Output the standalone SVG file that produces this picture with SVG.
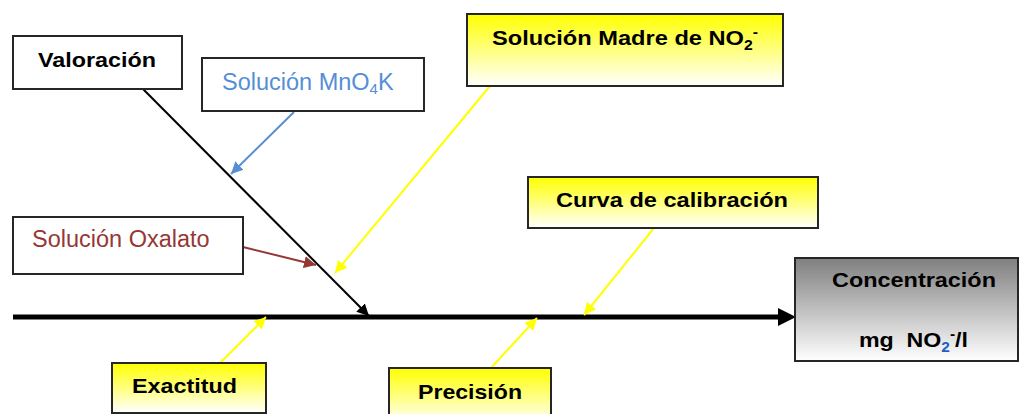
<svg xmlns="http://www.w3.org/2000/svg" width="1020" height="414" viewBox="0 0 1020 414">
<defs>
<linearGradient id="gy" x1="0" y1="0" x2="0" y2="1"><stop offset="0" stop-color="#ffff00"/><stop offset="1" stop-color="#ffffff"/></linearGradient>
<linearGradient id="gg" x1="0" y1="0" x2="0" y2="1"><stop offset="0" stop-color="#7f7f7f"/><stop offset="1" stop-color="#ffffff"/></linearGradient>
<marker id="aK" markerUnits="userSpaceOnUse" markerWidth="14" markerHeight="12" refX="12" refY="6" orient="auto"><path d="M0,0 L12,6 L0,12 Z" fill="#000"/></marker>
<marker id="aB" markerUnits="userSpaceOnUse" markerWidth="14" markerHeight="12" refX="12" refY="6" orient="auto"><path d="M0,0 L12,6 L0,12 Z" fill="#558ed5"/></marker>
<marker id="aR" markerUnits="userSpaceOnUse" markerWidth="14" markerHeight="12" refX="12" refY="6" orient="auto"><path d="M0,0 L12,6 L0,12 Z" fill="#953735"/></marker>
<marker id="aY" markerUnits="userSpaceOnUse" markerWidth="14" markerHeight="12" refX="12" refY="6" orient="auto"><path d="M0,0 L12,6 L0,12 Z" fill="#ffff00"/></marker>
</defs>
<style>
.box{stroke:#262626;stroke-width:2}
.w{fill:#fff}
.y{fill:url(#gy)}
.g{fill:url(#gg)}
.b{font-family:"Liberation Sans",Arial,sans-serif;font-weight:bold;font-size:21px;fill:#000}
.r{font-family:"Liberation Sans",Arial,sans-serif;font-size:23.5px}
.c{fill:none;stroke-width:2}
</style>
<rect width="1020" height="414" fill="#fff"/>
<g id="connectors">
<line x1="13" y1="317" x2="780" y2="317" stroke="#000" stroke-width="5"/>
<path d="M778,308 L796,317 L778,326 Z" fill="#000"/>
<line class="c" x1="143" y1="89" x2="369" y2="316" stroke="#000" marker-end="url(#aK)"/>
<line class="c" x1="294" y1="112" x2="231" y2="174" stroke="#558ed5" marker-end="url(#aB)"/>
<line class="c" x1="243" y1="247" x2="316" y2="265" stroke="#953735" stroke-width="2.5" marker-end="url(#aR)"/>
<line class="c" x1="490" y1="86" x2="335" y2="273" stroke="#ffff00" marker-end="url(#aY)"/>
<line class="c" x1="654" y1="228" x2="584" y2="315" stroke="#ffff00" marker-end="url(#aY)"/>
<line class="c" x1="220" y1="363" x2="266" y2="317" stroke="#ffff00" marker-end="url(#aY)"/>
<line class="c" x1="491" y1="368" x2="537" y2="318" stroke="#ffff00" marker-end="url(#aY)"/>
</g>
<g id="valoracion">
<rect class="box w" x="13" y="36" width="169" height="53"/>
<text class="b" x="38" y="67" textLength="118" lengthAdjust="spacingAndGlyphs">Valoración</text>
</g>
<g id="mno4k">
<rect class="box w" x="202" y="58" width="222" height="53"/>
<text class="r" x="222" y="90" fill="#558ed5">Solución MnO<tspan font-size="15" dy="4">4</tspan><tspan dy="-4">K</tspan></text>
</g>
<g id="madre">
<rect class="box y" x="467" y="14" width="316" height="72"/>
<text class="b" x="492" y="45" textLength="266" lengthAdjust="spacingAndGlyphs">Solución Madre de NO<tspan font-size="14" dy="5">2</tspan><tspan font-size="14" dy="-13">-</tspan></text>
</g>
<g id="oxalato">
<rect class="box w" x="13" y="217" width="230" height="57"/>
<text class="r" x="32" y="247" fill="#953735">Solución Oxalato</text>
</g>
<g id="curva">
<rect class="box y" x="528" y="177" width="290" height="51"/>
<text class="b" x="556" y="207" textLength="232" lengthAdjust="spacingAndGlyphs">Curva de calibración</text>
</g>
<g id="concentracion">
<rect class="box g" x="795" y="258" width="223" height="103"/>
<text class="b" x="832" y="287" textLength="164" lengthAdjust="spacingAndGlyphs">Concentración</text>
<text class="b" x="859" y="347" xml:space="preserve" textLength="109" lengthAdjust="spacingAndGlyphs">mg  NO<tspan font-size="14" dy="5" fill="#1f5fbf">2</tspan><tspan font-size="14" dy="-13">-</tspan><tspan dy="8">/l</tspan></text>
</g>
<g id="exactitud">
<rect class="box y" x="112" y="363" width="154" height="50"/>
<text class="b" x="132" y="393" textLength="105" lengthAdjust="spacingAndGlyphs">Exactitud</text>
</g>
<g id="precision">
<rect class="box y" x="389" y="368" width="162" height="56"/>
<text class="b" x="418" y="399" textLength="104" lengthAdjust="spacingAndGlyphs">Precisión</text>
</g>
</svg>
